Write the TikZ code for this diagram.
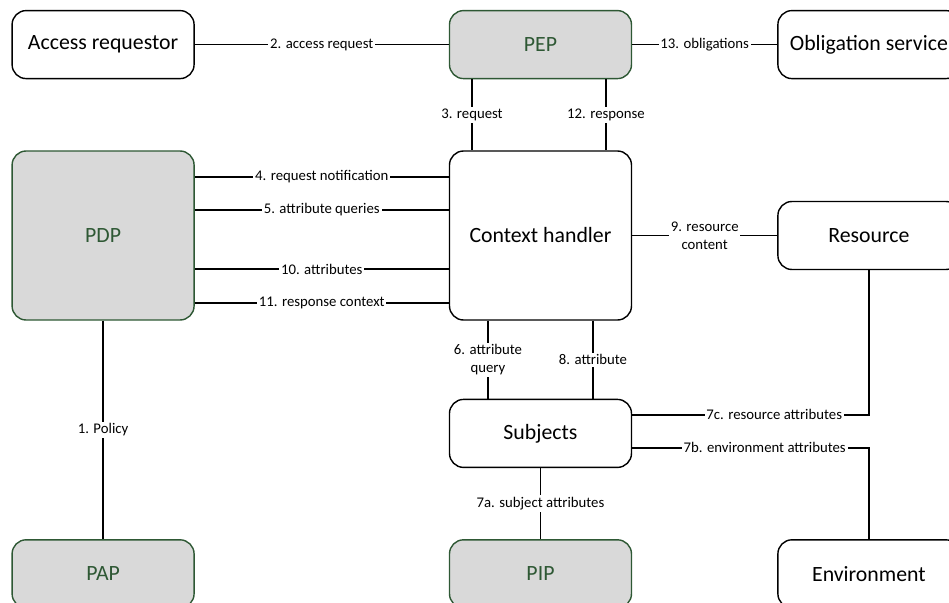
\documentclass[tikz,border=0pt]{standalone}
\usepackage{fontspec}
\setmainfont{Carlito}
\usepackage{xcolor}
\usepackage{tikz}
\usetikzlibrary{positioning,calc}

\definecolor{pointgreen}{RGB}{46,88,52}
\definecolor{pointgray}{RGB}{217,217,217}

\begin{document}
\begin{tikzpicture}[
    entity/.style={rectangle, draw, rounded corners=8pt, line width=0.8pt, minimum width=3.64cm, minimum height=1.36cm, inner sep=0pt, font=\fontsize{12.4}{14}\selectfont},
    point/.style={entity, draw=pointgreen, fill=pointgray, text=pointgreen},
    tall/.style={minimum height=3.38cm},
    lbl/.style={fill=white, inner sep=1pt, align=center, font=\fontsize{8.4}{10}\selectfont},
    link/.style={line width=0.75pt}
]
    % Page frame, context handler sits at the origin
    \useasboundingbox (-10.81,4.71) rectangle ++(18.98,-12.06);

    % Middle column
    \node[entity, tall] (ctx) at (0,0) {Context handler};
    \node[point, above=1.42cm of ctx] (pep) {PEP};
    \node[entity, below=1.56cm of ctx] (subj) {Subjects};
    \node[point, below=1.42cm of subj] (pip) {PIP};

    % Left and right columns
    \node[entity, left=5.08cm of pep] (areq) {Access requestor};
    \node[entity, right=2.9cm of pep] (oblig) {Obligation service};
    \node[point, tall, left=5.08cm of ctx] (pdp) {PDP};
    \node[entity, right=2.9cm of ctx] (res) {Resource};
    \node[point] (pap) at (pdp |- pip) {PAP};
    \node[entity] (env) at (res |- pip) {Environment};

    % Top row
    \draw[link] (areq) -- node[lbl] {2. access request} (pep);
    \draw[link] (pep) -- node[lbl] {13. obligations} (oblig);
    \draw[link] ([xshift=-1.37cm]pep.south) -- node[lbl] {3. request} ([xshift=-1.37cm]ctx.north);
    \draw[link] ([xshift=1.31cm]pep.south) -- node[lbl] {12. response} ([xshift=1.31cm]ctx.north);

    % PDP <-> context handler
    \draw[link] ([yshift=1.17cm]pdp.east) -- node[lbl] {4. request notification} ([yshift=1.17cm]ctx.west);
    \draw[link] ([yshift=0.51cm]pdp.east) -- node[lbl] {5. attribute queries} ([yshift=0.51cm]ctx.west);
    \draw[link] ([yshift=-0.67cm]pdp.east) -- node[lbl] {10. attributes} ([yshift=-0.67cm]ctx.west);
    \draw[link] ([yshift=-1.35cm]pdp.east) -- node[lbl] {11. response context} ([yshift=-1.35cm]ctx.west);
    \draw[link] (ctx) -- node[lbl] {9. resource\\content} (res);
    \draw[link] (pdp) -- node[lbl] {1. Policy} (pap);

    % Attribute lookups
    \draw[link] ([xshift=-1.05cm]ctx.south) -- node[lbl] {6. attribute\\query} ([xshift=-1.05cm]subj.north);
    \draw[link] ([xshift=1.05cm]ctx.south) -- node[lbl] {8. attribute} ([xshift=1.05cm]subj.north);
    \draw[link] (subj) -- node[lbl] {7a. subject attributes} (pip);
    \draw[link] ([yshift=0.37cm]subj.east) -- node[lbl, pos=0.6] {7c. resource attributes} ([yshift=0.37cm]subj.east -| res.south) -- (res.south);
    \draw[link] ([yshift=-0.29cm]subj.east) -- node[lbl, pos=0.56] {7b. environment attributes} ([yshift=-0.29cm]subj.east -| env.north) -- (env.north);

\end{tikzpicture}
\end{document}
